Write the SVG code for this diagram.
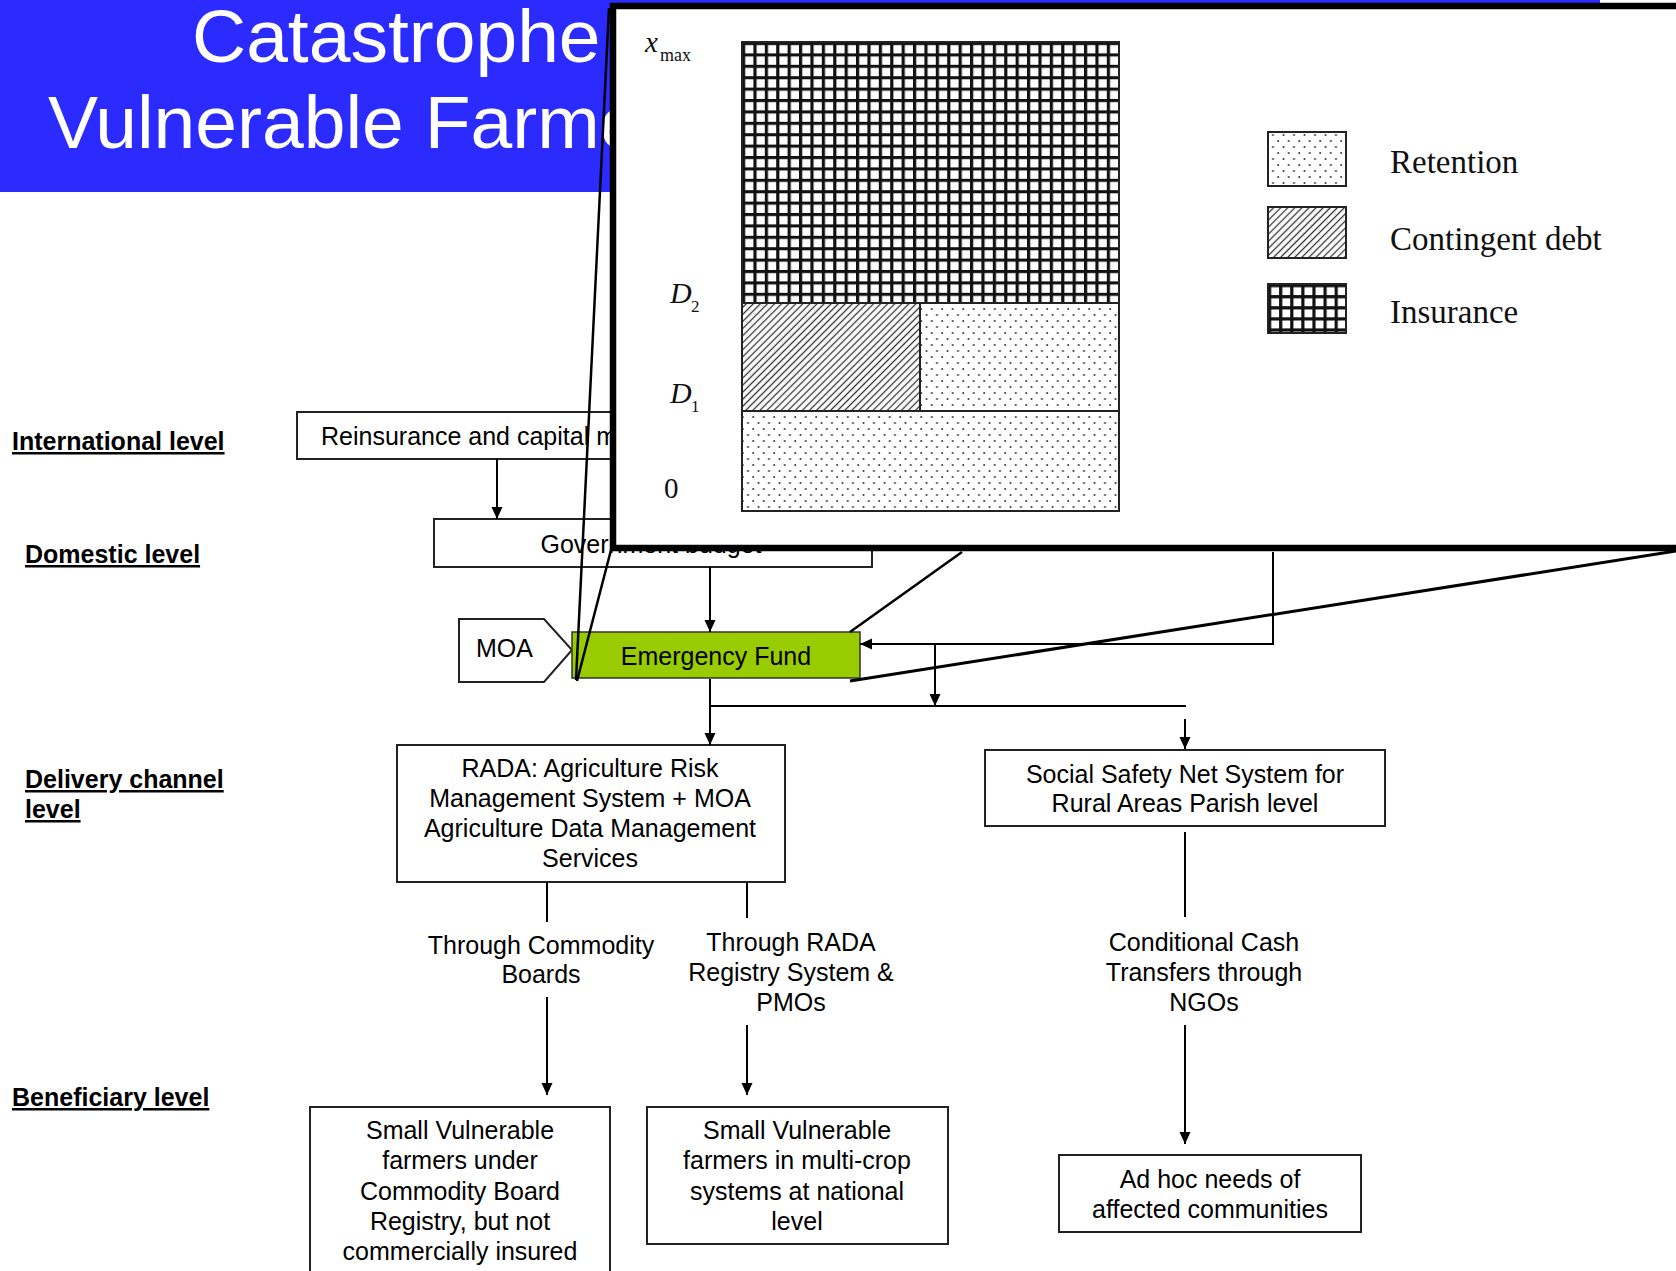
<svg xmlns="http://www.w3.org/2000/svg" width="1676" height="1271" viewBox="0 0 1676 1271">
<style>
.t{font-family:"Liberation Sans",Arial,sans-serif;font-size:25px;fill:#000}
.c{text-anchor:middle}
.lvl{font-family:"Liberation Sans",Arial,sans-serif;font-size:25px;font-weight:bold;fill:#000;text-decoration:underline}
.box{fill:#fff;stroke:#222;stroke-width:2}
.con{fill:none;stroke:#000;stroke-width:2}
.ser{font-family:"Liberation Serif","Times New Roman",serif;fill:#111}
.it{font-style:italic}
.mag{stroke:#000;fill:none}
</style>
<defs>
<marker id="arr" viewBox="0 0 12 12" refX="12" refY="6" markerWidth="12" markerHeight="12" markerUnits="userSpaceOnUse" orient="auto">
<path d="M0,0.5 L12,6 L0,11.5 z" fill="#000"/>
</marker>
<pattern id="grid" x="742" y="42" width="11.4" height="11.4" patternUnits="userSpaceOnUse">
<rect width="11.4" height="11.4" fill="#fff"/>
<path d="M0,1.6 H11.4 M1.6,0 V11.4" stroke="#111" stroke-width="3.2"/>
</pattern>
<pattern id="lgrid" x="1268" y="284" width="11.1" height="11.1" patternUnits="userSpaceOnUse">
<rect width="11.1" height="11.1" fill="#fff"/>
<path d="M0,1.6 H11.1 M1.6,0 V11.1" stroke="#111" stroke-width="3.2"/>
</pattern>
<pattern id="hatch" width="5" height="5" patternUnits="userSpaceOnUse" patternTransform="rotate(45)">
<rect width="5" height="5" fill="#fff"/>
<line x1="2.5" y1="0" x2="2.5" y2="5" stroke="#333" stroke-width="1.3"/>
</pattern>
<pattern id="dots" width="10.5" height="12" patternUnits="userSpaceOnUse">
<rect width="10.5" height="12" fill="#fff"/>
<circle cx="2.5" cy="3" r="1" fill="#333"/>
<circle cx="7.75" cy="9" r="1" fill="#333"/>
</pattern>
</defs>

<!-- title bar -->
<g id="title">
<rect x="0" y="0" width="1600" height="192" fill="#2B2BFF"/>
<text x="192" y="62" style="font-family:'Liberation Sans',Arial,sans-serif;font-size:75px;fill:#fff">Catastrophe</text>
<text x="48" y="148" style="font-family:'Liberation Sans',Arial,sans-serif;font-size:75px;fill:#fff">Vulnerable Farmers</text>
</g>

<!-- level labels -->
<g id="levels">
<text class="lvl" x="12" y="450">International level</text>
<text class="lvl" x="25" y="563">Domestic level</text>
<text class="lvl" x="25" y="788">Delivery channel</text>
<text class="lvl" x="25" y="818">level</text>
<text class="lvl" x="12" y="1106">Beneficiary level</text>
</g>

<!-- nodes -->
<g id="reinsurance">
<rect class="box" x="297" y="412" width="500" height="47"/>
<text class="t" x="321" y="445">Reinsurance and capital markets</text>
</g>
<g id="government">
<rect class="box" x="434" y="519" width="438" height="48"/>
<text class="t c" x="651" y="553">Government budget</text>
</g>
<g id="moa">
<path d="M459,619 H544 L572,650 L544,682 H459 Z" fill="#fff" stroke="#222" stroke-width="2"/>
<text class="t" x="476" y="657">MOA</text>
</g>
<g id="emergency">
<rect x="572" y="632" width="288" height="46" fill="#99CC00" stroke="#333" stroke-width="1.5"/>
<text class="t c" x="716" y="665">Emergency Fund</text>
</g>
<g id="rada">
<rect class="box" x="397" y="745" width="388" height="137"/>
<text class="t c" x="590" y="777">RADA: Agriculture Risk</text>
<text class="t c" x="590" y="807">Management System + MOA</text>
<text class="t c" x="590" y="837">Agriculture Data Management</text>
<text class="t c" x="590" y="867">Services</text>
</g>
<g id="social">
<rect class="box" x="985" y="750" width="400" height="76"/>
<text class="t c" x="1185" y="783">Social Safety Net System for</text>
<text class="t c" x="1185" y="812">Rural Areas Parish level</text>
</g>
<g id="lbl-commodity">
<text class="t c" x="541" y="954">Through Commodity</text>
<text class="t c" x="541" y="983">Boards</text>
</g>
<g id="lbl-rada">
<text class="t c" x="791" y="951">Through RADA</text>
<text class="t c" x="791" y="981">Registry System &amp;</text>
<text class="t c" x="791" y="1011">PMOs</text>
</g>
<g id="lbl-cct">
<text class="t c" x="1204" y="951">Conditional Cash</text>
<text class="t c" x="1204" y="981">Transfers through</text>
<text class="t c" x="1204" y="1011">NGOs</text>
</g>
<g id="ben-commodity">
<rect class="box" x="310" y="1107" width="300" height="180"/>
<text class="t c" x="460" y="1139">Small Vulnerable</text>
<text class="t c" x="460" y="1169">farmers under</text>
<text class="t c" x="460" y="1200">Commodity Board</text>
<text class="t c" x="460" y="1230">Registry, but not</text>
<text class="t c" x="460" y="1260">commercially insured</text>
</g>
<g id="ben-multicrop">
<rect class="box" x="647" y="1107" width="301" height="137"/>
<text class="t c" x="797" y="1139">Small Vulnerable</text>
<text class="t c" x="797" y="1169">farmers in multi-crop</text>
<text class="t c" x="797" y="1200">systems at national</text>
<text class="t c" x="797" y="1230">level</text>
</g>
<g id="ben-adhoc">
<rect class="box" x="1059" y="1155" width="302" height="77"/>
<text class="t c" x="1210" y="1188">Ad hoc needs of</text>
<text class="t c" x="1210" y="1218">affected communities</text>
</g>

<!-- connectors -->
<g id="connectors">
<path class="con" d="M497,459 V519" marker-end="url(#arr)"/>
<path class="con" d="M710,567 V632" marker-end="url(#arr)"/>
<path class="con" d="M1273,552 V644 H860" marker-end="url(#arr)"/>
<path class="con" d="M935,644 V706" marker-end="url(#arr)"/>
<path class="con" d="M710,679 V745" marker-end="url(#arr)"/>
<path class="con" d="M710,706 H1186"/>
<path class="con" d="M1185,719 V749" marker-end="url(#arr)"/>
<path class="con" d="M547,882 V922"/>
<path class="con" d="M747,882 V918"/>
<path class="con" d="M547,997 V1095" marker-end="url(#arr)"/>
<path class="con" d="M747,1025 V1095" marker-end="url(#arr)"/>
<path class="con" d="M1185,832 V917"/>
<path class="con" d="M1185,1025 V1144" marker-end="url(#arr)"/>
</g>

<!-- inset chart -->
<g id="inset">
<rect x="613" y="6" width="1200" height="542" fill="#fff" stroke="#000" stroke-width="6.5"/>
<g id="chart">
<rect x="742" y="42" width="377" height="261" fill="url(#grid)"/>
<rect x="742" y="303" width="178" height="108" fill="url(#hatch)"/>
<rect x="920" y="303" width="199" height="108" fill="url(#dots)"/>
<rect x="742" y="411" width="377" height="100" fill="url(#dots)"/>
<rect x="742" y="42" width="377" height="469" fill="none" stroke="#222" stroke-width="2"/>
<path d="M742,303 H1119 M742,411 H1119 M920,303 V411" stroke="#222" stroke-width="2" fill="none"/>
</g>
<text class="ser it" x="645" y="52" font-size="29">x</text>
<text class="ser" x="660" y="61" font-size="18">max</text>
<text class="ser it" x="670" y="303" font-size="30">D</text>
<text class="ser" x="691" y="312" font-size="17">2</text>
<text class="ser it" x="670" y="403" font-size="30">D</text>
<text class="ser" x="691" y="412" font-size="17">1</text>
<text class="ser" x="664" y="498" font-size="29">0</text>
<g id="legend">
<rect x="1268" y="132" width="78" height="54" fill="url(#dots)" stroke="#222" stroke-width="2"/>
<rect x="1268" y="207" width="78" height="51" fill="url(#hatch)" stroke="#222" stroke-width="2"/>
<rect x="1268" y="284" width="78" height="49" fill="url(#lgrid)" stroke="#222" stroke-width="2"/>
<text class="ser" x="1390" y="173" font-size="33">Retention</text>
<text class="ser" x="1390" y="250" font-size="33">Contingent debt</text>
<text class="ser" x="1390" y="323" font-size="33">Insurance</text>
</g>
</g>

<!-- magnifier lines -->
<g id="magnifier">
<path class="mag" d="M609,8 L576,680" stroke-width="2.5"/>
<path class="mag" d="M611,550 L577,681" stroke-width="2.5"/>
<path class="mag" d="M850,632 L962,552" stroke-width="2.5"/>
<path class="mag" d="M850,681 L1676,551" stroke-width="3"/>
</g>
</svg>
